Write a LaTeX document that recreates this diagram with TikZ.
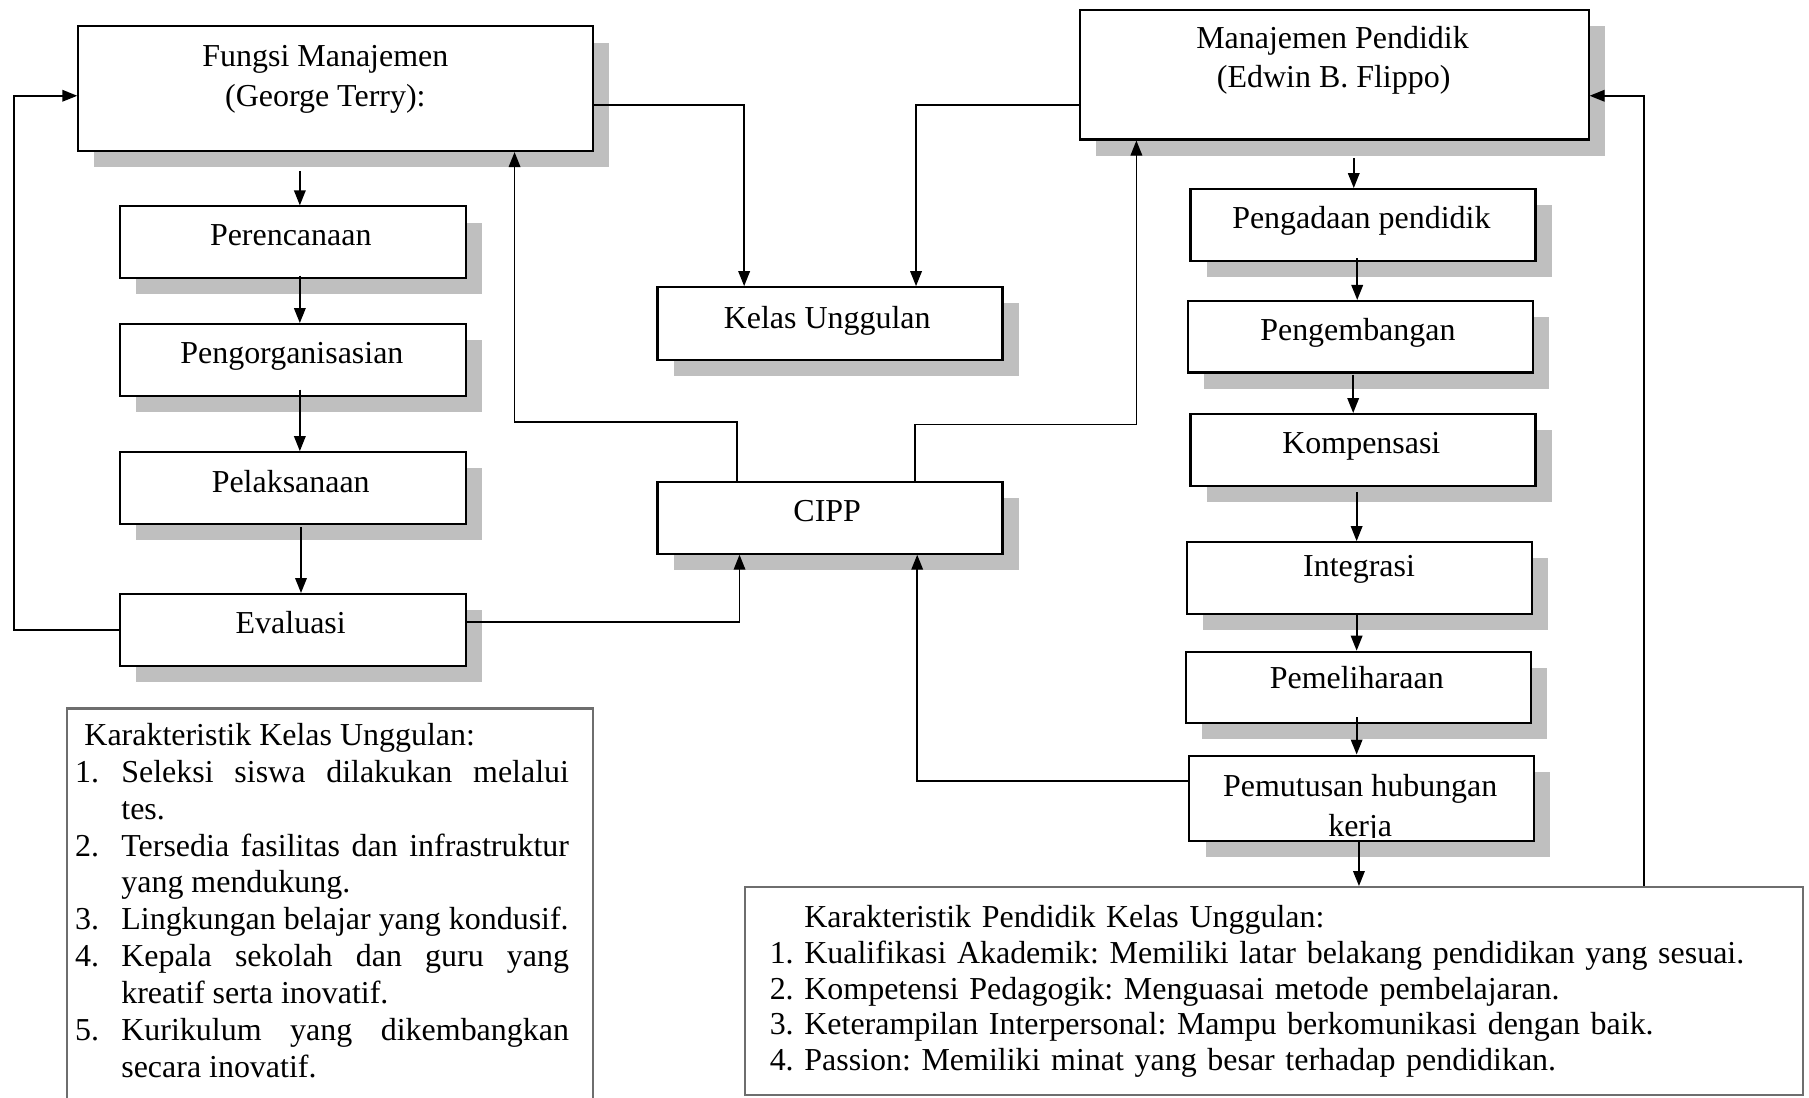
\documentclass[tikz,border=0pt]{standalone}
\usepackage{fontspec}
\setmainfont{Liberation Serif}
\usetikzlibrary{arrows.meta,calc,shadows}
\definecolor{shadowgray}{RGB}{191,191,191}
\definecolor{framegray}{RGB}{110,110,110}
\newcommand\fs{\fontsize{27.7pt}{32pt}\selectfont}
\newcommand\fsb{\fontsize{27.7pt}{31pt}\selectfont}
\newcommand\flowbox[5]{\node[box, anchor=north west, minimum width={(#4-#2)*1pt}, minimum height={(#5-#3)*1pt}] (#1) at (#2,#3) {};}
\frenchspacing
\begin{document}
\begin{tikzpicture}[x=1pt,y=-1pt,
 box/.style={draw, fill=white, line width=1.8pt, inner sep=0pt, drop shadow={shadow xshift=14pt, shadow yshift=-14pt, fill=shadowgray, opacity=1}},
 frame/.style={draw=framegray, fill=white, line width=2pt, inner sep=0pt},
 lbl/.style={anchor=base, inner sep=0pt, font=\fs},
 conn/.style={line width=1.5pt},
 arr/.style={conn, -{Triangle[length=13pt,width=10pt]}}]
\useasboundingbox (0,0) rectangle (1568,951);

% ---- boxes ----
\flowbox{fungsi}{67}{22}{513}{130}
\flowbox{per}{103}{178}{403}{240}
\flowbox{org}{103}{280}{403}{342}
\flowbox{pel}{103}{391}{403}{453}
\flowbox{eva}{103}{514}{403}{576}
\flowbox{kelas}{569}{248}{868}{311}
\flowbox{cipp}{569}{417}{868}{479}
\flowbox{mp}{935}{8}{1376}{120}
\flowbox{peng}{1031}{163}{1330}{225}
\flowbox{kemb}{1029}{260}{1328}{322}
\flowbox{komp}{1031}{358}{1330}{420}
\flowbox{integ}{1028}{469}{1327}{531}
\flowbox{pemel}{1027}{564}{1326}{626}
\flowbox{pemut}{1030}{654}{1329}{728}

\node[frame, anchor=north west, minimum width=456pt, minimum height=345pt] (kku) at (57,613) {};
\node[frame, anchor=north west, minimum width=917pt, minimum height=180pt] (kpk) at (645,768) {};

% ---- labels ----
\node[lbl] (fungsiT1) at (282,58) {Fungsi Manajemen};
\node[lbl] (fungsiT2) at (282,92) {(George Terry):};
\node[lbl] (perT) at (252,213) {Perencanaan};
\node[lbl] (orgT) at (253,315) {Pengorganisasian};
\node[lbl] (pelT) at (252,427) {Pelaksanaan};
\node[lbl] (evaT) at (252,549) {Evaluasi};
\node[lbl] (kelasT) at (717,285) {Kelas Unggulan};
\node[lbl] (cippT) at (717,452) {CIPP};
\node[lbl] (mpT1) at (1155,42) {Manajemen Pendidik};
\node[lbl] (mpT2) at (1156,76) {(Edwin B. Flippo)};
\node[lbl] (pengT) at (1180,198) {Pengadaan pendidik};
\node[lbl] (kembT) at (1177,295) {Pengembangan};
\node[lbl] (kompT) at (1180,393) {Kompensasi};
\node[lbl] (integT) at (1178,500) {Integrasi};
\node[lbl] (pemelT) at (1176,597) {Pemeliharaan};
\node[lbl] (pemutT1) at (1179,690) {Pemutusan hubungan};
\begin{scope}
\clip (1031,655) rectangle (1328,726);
\node[lbl] (pemutT2) at (1179,725) {kerja};
\end{scope}

\node[anchor=base west, inner sep=0pt, text width=428pt, align=justify, font=\fs] (kkuT) at (65,646) {%
\hyphenpenalty=10000\exhyphenpenalty=10000
\hspace*{8pt}Karakteristik Kelas Unggulan:\par
\hangindent=40pt\hangafter=1\noindent\makebox[40pt][l]{1.}Seleksi siswa dilakukan melalui tes.\par
\hangindent=40pt\hangafter=1\noindent\makebox[40pt][l]{2.}Tersedia fasilitas dan infrastruktur yang mendukung.\par
\hangindent=40pt\hangafter=1\noindent\makebox[40pt][l]{3.}Lingkungan belajar yang kondusif.\par
\hangindent=40pt\hangafter=1\noindent\makebox[40pt][l]{4.}Kepala sekolah dan guru yang kreatif serta inovatif.\par
\hangindent=40pt\hangafter=1\noindent\makebox[40pt][l]{5.}Kurikulum yang dikembangkan secara inovatif.\par};

\node[anchor=base west, inner sep=0pt, text width=890pt, align=left, font=\fsb] (kpkT) at (667,804) {%
\hspace*{30pt}Karakteristik Pendidik Kelas Unggulan:\\
\makebox[30pt][l]{1.}Kualifikasi Akademik: Memiliki latar belakang pendidikan yang sesuai.\\
\makebox[30pt][l]{2.}Kompetensi Pedagogik: Menguasai metode pembelajaran.\\
\makebox[30pt][l]{3.}Keterampilan Interpersonal: Mampu berkomunikasi dengan baik.\\
\makebox[30pt][l]{4.}Passion: Memiliki minat yang besar terhadap pendidikan.};

% ---- connectors ----
\coordinate (b1) at (12,83);
\draw[arr] (eva.west) -| (b1) -- (fungsi.west |- b1);
\coordinate (b2) at (645,91);
\draw[arr] (fungsi.east |- b2) -| (kelas.north -| b2);
\coordinate (b3) at (794,91);
\draw[arr] (mp.west |- b3) -| (kelas.north -| b3);

\draw[arr] ($(per.north)+(6,-30)$) -- ($(per.north)+(6,0)$);
\draw[arr] ($(per.south)+(6,-3)$) -- ($(org.north)+(6,0)$);
\draw[arr] ($(org.south)+(6,-6)$) -- ($(pel.north)+(6,0)$);
\draw[arr] ($(pel.south)+(7,2)$) -- ($(eva.north)+(7,0)$);

\coordinate (b8) at (641,539);
\draw[arr] (eva.east |- b8) -| (cipp.south -| b8);
\coordinate (b9a) at (639,366);
\coordinate (b9) at (446,366);
\draw[arr] (cipp.north -| b9a) |- (b9) -- (fungsi.south -| b9);
\coordinate (b10a) at (793,368);
\coordinate (b10) at (985,368);
\draw[arr] (cipp.north -| b10a) |- (b10) -- (mp.south -| b10);

\draw[arr] ($(peng.north)+(-8,-26)$) -- ($(peng.north)+(-8,0)$);
\draw[arr] ($(peng.south)+(-5,-3)$) -- ($(kemb.north)+(-3,0)$);
\draw[arr] ($(kemb.south)+(-6.5,1)$) -- ($(komp.north)+(-8.5,0)$);
\draw[arr] ($(komp.south)+(-5.5,5)$) -- ($(integ.north)+(-2.5,0)$);
\draw[arr] ($(integ.south)+(-2.5,0)$) -- ($(pemel.north)+(-1.5,0)$);
\draw[arr] ($(pemel.south)+(-1.5,-6)$) -- ($(pemut.north)+(-4.5,0)$);
\coordinate (c17) at ($(pemut.south)+(-2.5,0)$);
\draw[arr] (c17) -- (c17 |- kpk.north);

\coordinate (b18) at (795,677);
\draw[arr] (pemut.west |- b18) -| (cipp.south -| b18);
\coordinate (b19) at (1425,83);
\draw[arr] (kpk.north -| b19) -- (b19) -- (mp.east |- b19);
\end{tikzpicture}
\end{document}
